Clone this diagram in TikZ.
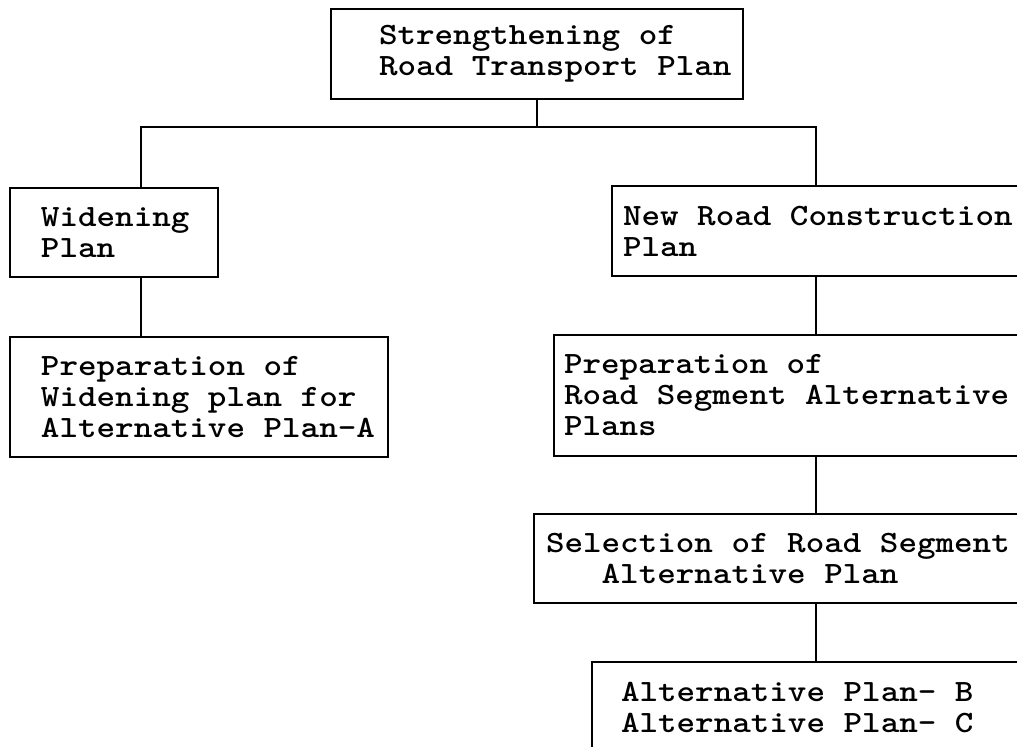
\documentclass[tikz,border=0pt]{standalone}
\usepackage{fontspec}
\usepackage{tikz}
\newfontfamily\chartfont{lmmonolt10-bold.otf}[FakeStretch=1.14]
\tikzset{
    planbox/.style={draw, anchor=north west, align=left, inner xsep=0pt, inner ysep=0pt,
        font=\chartfont\fontsize{15.5}{15.5}\selectfont},
    lpad/.style={execute at begin node={\leftskip=#1\spaceskip=\fontcharwd\font`\x\relax}}
}
\begin{document}
\begin{tikzpicture}[x=0.5pt, y=-0.5pt, line width=1pt]
            \useasboundingbox (0,0) rectangle (1017,746);
            \clip (0,0) rectangle (1017,746);

            \node[planbox, text width=206pt, minimum height=45pt, lpad=24pt] (top) at (330,8) {Strengthening of\\Road Transport Plan};

            \node[planbox, text width=104pt, minimum height=44.5pt, lpad=15.5pt] (widen) at (9,187) {Widening\\Plan};
            \node[planbox, text width=189pt, minimum height=60pt, lpad=15.5pt] (prepa) at (9,336) {Preparation of\\Widening plan for\\Alternative Plan-A};

            \node[planbox, text width=210pt, minimum height=45pt, lpad=5.5pt] (newroad) at (611,185) {New Road Construction\\Plan};
            \node[planbox, text width=240pt, minimum height=60.5pt, lpad=5pt] (preproad) at (553,334) {Preparation of\\Road Segment Alternative\\Plans};
            \node[planbox, text width=250pt, minimum height=44.5pt, lpad=6pt] (select) at (533,513) {Selection of Road Segment\\\hphantom{xxx}Alternative Plan};
            \node[planbox, text width=225pt, minimum height=45pt, lpad=14.5pt] (alt) at (591,661) {Alternative Plan- B\\Alternative Plan- C};

            \coordinate (bus) at (0,127);
            \coordinate (lcol) at (141,0);
            \coordinate (rcol) at (816,0);

            \draw (top.south) -- (top.south |- bus);
            \draw (widen.north -| lcol) |- (bus -| top.south) -| (newroad.north -| rcol);

            \draw (widen.south -| lcol) -- (prepa.north -| lcol);
            \draw (newroad.south -| rcol) -- (preproad.north -| rcol);
            \draw (preproad.south -| rcol) -- (select.north -| rcol);
            \draw (select.south -| rcol) -- (alt.north -| rcol);
\end{tikzpicture}
\end{document}
